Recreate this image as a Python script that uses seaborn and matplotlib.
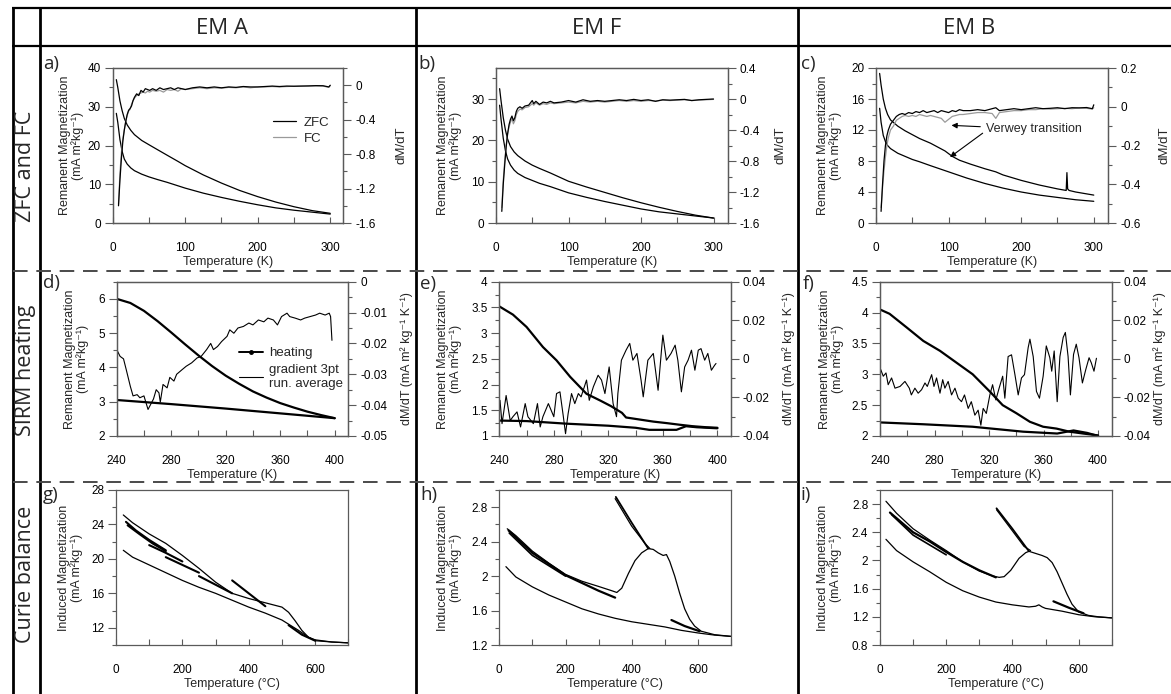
import matplotlib
matplotlib.use("Agg")
import matplotlib.pyplot as plt
import seaborn as sns
from matplotlib.lines import Line2D
from matplotlib.ticker import FixedLocator, FuncFormatter

# ---------------- data ----------------
col_titles = ["EM A", "EM F", "EM B"]
row_titles = ["ZFC and FC", "SIRM heating", "Curie balance"]
panel_tags = ["a)", "b)", "c)", "d)", "e)", "f)", "g)", "h)", "i)"]

# a) EM A  ZFC / FC
a_T_up = [5, 7, 10, 13, 16, 20, 25, 30, 40, 50, 62, 75, 90, 100, 125, 150, 175, 200, 225, 250, 275, 300]
a_M_up = [37.0, 35.0, 31.5, 29.0, 27.0, 25.3, 23.9, 22.8, 21.3, 20.2, 18.9, 17.5, 15.9, 14.8, 12.4, 10.3, 8.4, 6.8, 5.4, 4.2, 3.2, 2.5]
a_T_lo = [5, 7, 10, 13, 16, 20, 25, 30, 40, 50, 62, 75, 90, 100, 125, 150, 175, 200, 225, 250, 275, 300]
a_M_lo = [28.3, 26.0, 21.5, 18.5, 16.5, 15.2, 14.2, 13.5, 12.6, 11.9, 11.2, 10.5, 9.6, 9.0, 7.7, 6.6, 5.6, 4.7, 3.9, 3.3, 2.8, 2.3]
a_T_d = [8, 10, 12, 14, 16, 18, 20, 22, 24, 26, 28, 30, 33, 36, 39, 42, 45, 48, 51, 55, 60, 65, 70, 75, 80, 85, 90, 95, 100,
         110, 120, 130, 140, 150, 160, 170, 180, 190, 200, 210, 220, 230, 240, 250, 260, 270, 280, 290, 298, 300]
a_zfc_d = [-1.40, -1.10, -0.85, -0.65, -0.52, -0.42, -0.34, -0.29, -0.27, -0.24, -0.18, -0.14, -0.10, -0.12, -0.06, -0.08,
           -0.04, -0.05, -0.06, -0.04, -0.06, -0.03, -0.05, -0.04, -0.03, -0.05, -0.03, -0.04, -0.05, -0.03, -0.02, -0.03,
           -0.02, -0.03, -0.02, -0.025, -0.015, -0.02, -0.02, -0.015, -0.01, -0.015, -0.01, -0.012, -0.01, -0.008, -0.005,
           -0.006, -0.02, 0.0]
a_fc_d = [-1.38, -1.02, -0.78, -0.62, -0.52, -0.42, -0.35, -0.30, -0.28, -0.22, -0.18, -0.15, -0.12, -0.10, -0.09, -0.08,
          -0.09, -0.07, -0.08, -0.06, -0.07, -0.06, -0.08, -0.05, -0.06, -0.05, -0.07, -0.04, -0.05, -0.04, -0.03, -0.04,
          -0.03, -0.035, -0.025, -0.03, -0.02, -0.03, -0.02, -0.02, -0.015, -0.02, -0.015, -0.012, -0.01, -0.01, -0.008,
          -0.01, -0.025, -0.005]

# b) EM F  ZFC / FC
b_T = [5, 7, 10, 13, 16, 20, 25, 30, 40, 50, 60, 75, 90, 100, 125, 150, 175, 200, 225, 250, 275, 300]
b_M_up = [32.5, 29.5, 25.5, 22.5, 20.3, 18.5, 17.2, 16.3, 15.0, 14.0, 13.2, 12.1, 10.9, 10.1, 8.7, 7.4, 6.1, 4.9, 3.8, 2.8, 1.9, 1.2]
b_M_lo = [28.5, 25.0, 20.5, 17.5, 15.5, 14.0, 12.8, 12.0, 11.0, 10.3, 9.6, 8.8, 7.9, 7.3, 6.2, 5.2, 4.3, 3.4, 2.7, 2.2, 1.7, 1.2]
b_T_d = [8, 10, 12, 14, 16, 18, 20, 22, 24, 26, 28, 30, 33, 36, 40, 45, 50, 52, 55, 60, 65, 70, 75, 80, 90, 100, 110, 120,
         130, 140, 150, 160, 170, 180, 190, 200, 210, 220, 230, 240, 250, 260, 270, 280, 290, 300]
b_zfc_d = [-1.45, -1.10, -0.85, -0.62, -0.45, -0.33, -0.26, -0.22, -0.28, -0.24, -0.16, -0.12, -0.10, -0.12, -0.09, -0.08,
           -0.02, -0.06, -0.03, -0.07, -0.04, -0.05, -0.03, -0.05, -0.04, -0.02, -0.04, -0.01, -0.03, -0.02, -0.03, -0.02,
           -0.01, -0.02, -0.005, -0.02, -0.01, -0.03, -0.01, -0.015, -0.01, -0.005, -0.02, -0.01, -0.005, 0.0]
b_fc_d = [-1.40, -1.05, -0.80, -0.60, -0.45, -0.36, -0.30, -0.25, -0.32, -0.28, -0.20, -0.16, -0.13, -0.14, -0.11, -0.10,
          -0.06, -0.08, -0.05, -0.08, -0.06, -0.07, -0.05, -0.06, -0.05, -0.04, -0.05, -0.03, -0.04, -0.03, -0.04, -0.03,
          -0.02, -0.03, -0.02, -0.03, -0.02, -0.025, -0.015, -0.02, -0.015, -0.01, -0.02, -0.015, -0.01, -0.005]

# c) EM B  ZFC / FC
c_T_up = [5, 7, 10, 13, 16, 20, 25, 30, 40, 50, 60, 75, 85, 95, 105, 115, 130, 150, 165, 175, 200, 225, 250, 262, 263, 264,
          266, 275, 300]
c_M_up = [19.3, 17.8, 16.0, 14.8, 14.0, 13.3, 12.9, 12.5, 11.9, 11.4, 10.9, 10.3, 9.8, 9.3, 8.6, 8.1, 7.6, 7.0, 6.6, 6.2,
          5.5, 4.9, 4.4, 4.2, 6.5, 4.4, 4.2, 4.0, 3.6]
c_T_lo = [5, 7, 10, 13, 16, 20, 25, 30, 40, 50, 60, 75, 100, 125, 150, 175, 200, 225, 250, 275, 300]
c_M_lo = [14.8, 13.0, 11.3, 10.5, 10.0, 9.6, 9.3, 9.0, 8.6, 8.2, 7.9, 7.4, 6.6, 5.8, 5.1, 4.5, 4.0, 3.6, 3.3, 3.0, 2.8]
c_T_d = [7, 9, 11, 13, 15, 17, 20, 24, 28, 32, 36, 40, 45, 50, 55, 60, 65, 70, 75, 80, 85, 90, 95, 100, 105, 110, 115, 120,
         130, 140, 150, 160, 165, 170, 180, 190, 200, 210, 220, 230, 240, 250, 260, 270, 280, 290, 298, 300]
c_zfc_d = [-0.54, -0.40, -0.28, -0.20, -0.15, -0.12, -0.09, -0.07, -0.05, -0.04, -0.035, -0.04, -0.03, -0.035, -0.025,
           -0.03, -0.02, -0.03, -0.025, -0.02, -0.03, -0.02, -0.025, -0.03, -0.02, -0.025, -0.015, -0.02, -0.02, -0.015,
           -0.02, -0.01, -0.005, -0.02, -0.015, -0.01, -0.015, -0.01, -0.005, -0.01, -0.008, -0.005, -0.01, -0.005,
           -0.006, -0.004, -0.01, 0.01]
c_fc_d = [-0.52, -0.42, -0.33, -0.26, -0.20, -0.16, -0.12, -0.10, -0.07, -0.06, -0.05, -0.045, -0.05, -0.045, -0.05, -0.04,
          -0.045, -0.05, -0.045, -0.05, -0.055, -0.06, -0.08, -0.065, -0.05, -0.045, -0.04, -0.04, -0.035, -0.03, -0.03,
          -0.035, -0.06, -0.03, -0.025, -0.02, -0.02, -0.015, -0.015, -0.01, -0.012, -0.01, -0.008, -0.01, -0.006, -0.008,
          -0.012, -0.005]

# d) EM A  SIRM heating
d_T_heat = [240, 250, 260, 270, 280, 290, 300, 310, 320, 330, 340, 350, 360, 370, 380, 390, 400]
d_M_heat = [6.0, 5.88, 5.65, 5.35, 5.02, 4.68, 4.35, 4.04, 3.76, 3.52, 3.30, 3.12, 2.96, 2.83, 2.71, 2.61, 2.52]
d_T_low = [240, 280, 320, 360, 400]
d_M_low = [3.05, 2.93, 2.80, 2.66, 2.52]
d_T_g = [240, 242.5, 245, 247, 250, 252, 255, 257, 260, 263, 267, 269, 271, 272, 274, 277, 279, 282, 284, 288, 291, 295,
         299, 302, 306, 309, 311, 314, 317, 321, 323, 326, 329, 333, 337, 340, 344, 348, 351, 355, 358, 361, 365, 367,
         371, 375, 378, 382, 386, 389, 393, 396, 397, 398]
d_g = [-0.022, -0.0242, -0.025, -0.0285, -0.0339, -0.037, -0.0366, -0.0376, -0.037, -0.0414, -0.038, -0.035, -0.036,
       -0.039, -0.0333, -0.0344, -0.031, -0.0322, -0.030, -0.0285, -0.0274, -0.0263, -0.0247, -0.0242, -0.022, -0.020,
       -0.022, -0.021, -0.0194, -0.0177, -0.0156, -0.0167, -0.015, -0.0145, -0.0134, -0.014, -0.0124, -0.013, -0.0118,
       -0.0124, -0.014, -0.0113, -0.0102, -0.0113, -0.0118, -0.0124, -0.0118, -0.0113, -0.0108, -0.0102, -0.0108,
       -0.0102, -0.0113, -0.019]

# e) EM F  SIRM heating
e_T_heat = [240, 250, 260, 272, 282, 292, 304, 314, 322, 330, 333, 343, 353, 363, 372, 382, 392, 400]
e_M_heat = [3.52, 3.36, 3.12, 2.73, 2.47, 2.15, 1.82, 1.69, 1.58, 1.45, 1.36, 1.32, 1.28, 1.25, 1.22, 1.19, 1.17, 1.16]
e_T_low = [240, 260, 289, 320, 340, 350, 360, 370, 377, 385, 400]
e_M_low = [1.30, 1.29, 1.24, 1.20, 1.16, 1.12, 1.12, 1.12, 1.19, 1.17, 1.15]
e_T_g = [240.5, 242, 245, 248, 250, 253, 255.6, 259, 261, 265, 268, 270, 272, 276, 280, 282, 284.5, 287, 288.6, 290.5,
         293, 295.4, 298, 300, 304, 306, 309, 312.5, 315, 317.5, 320.6, 323.5, 326, 327, 329.6, 333, 335.7, 338, 341, 344,
         345.6, 349, 353, 356.5, 359, 360, 362.6, 366, 369, 371, 373.6, 376, 378.5, 381, 383.5, 386, 388, 390.7, 393,
         395.6, 398, 399]
e_g = [-0.0215, -0.0336, -0.019, -0.032, -0.030, -0.0275, -0.0353, -0.0232, -0.030, -0.0336, -0.0232, -0.0353, -0.030,
       -0.0232, -0.030, -0.018, -0.0171, -0.030, -0.0388, -0.0284, -0.018, -0.0232, -0.018, -0.0197, -0.011, -0.0215,
       -0.0145, -0.0085, -0.011, -0.018, -0.0042, -0.0232, -0.030, -0.018, -0.0007, 0.0045, 0.008, -0.0007, 0.0028,
       -0.011, -0.0197, -0.0007, 0.0028, -0.0163, 0.0045, 0.0123, -0.0007, 0.0028, 0.0071, -0.0007, -0.0171, -0.0042,
       -0.0007, 0.0045, -0.0059, 0.0045, 0.0053, -0.0007, 0.0028, -0.0059, -0.0033, -0.0024]

# f) EM B  SIRM heating
f_T_heat = [240, 247, 259.5, 271.8, 284, 296, 308, 320.6, 330, 340, 350, 359.7, 369.5, 379, 389, 400]
f_M_heat = [4.05, 3.98, 3.76, 3.54, 3.38, 3.19, 3.00, 2.72, 2.50, 2.37, 2.23, 2.15, 2.12, 2.07, 2.04, 2.01]
f_T_low = [240, 272, 308, 345, 370, 382, 392, 400]
f_M_low = [2.22, 2.19, 2.15, 2.07, 2.04, 2.09, 2.05, 2.00]
f_T_g = [240.5, 242.4, 244.4, 246, 248.5, 251, 254.7, 258.3, 261.5, 263, 265.6, 268, 270.5, 273, 274.7, 277.9, 279.6,
         281.5, 284, 286, 287.6, 290, 292.5, 295, 297.4, 299.8, 302, 304.7, 307, 309.6, 312, 314, 315.7, 318, 320.6,
         322.6, 325, 327.4, 330, 331.6, 334, 336.5, 339, 341.4, 343.8, 346, 348.7, 350, 352.4, 354.8, 357, 359.7, 362,
         364.6, 366, 367.8, 370, 372, 374.4, 376, 378, 379.7, 382, 384, 386, 388.5, 391, 393.4, 395, 397, 398.8]
f_g = [-0.0055, -0.009, -0.0073, -0.0134, -0.0099, -0.0152, -0.0143, -0.0117, -0.0152, -0.0187, -0.0152, -0.0178,
       -0.016, -0.0125, -0.0143, -0.0082, -0.0143, -0.0099, -0.0178, -0.0108, -0.0152, -0.0117, -0.0187, -0.0152,
       -0.0204, -0.0222, -0.0187, -0.0257, -0.0222, -0.0292, -0.0266, -0.0344, -0.0257, -0.0283, -0.0187, -0.0134,
       -0.0213, -0.0152, -0.009, -0.0204, 0.0012, 0.0021, -0.0082, -0.0187, -0.0099, -0.0082, 0.0058, 0.0102, 0.0012,
       -0.0169, -0.0204, -0.009, 0.0067, 0.0006, -0.0064, 0.0041, -0.0222, 0.0012, 0.0111, 0.0137, 0.0012, -0.0187,
       0.0023, 0.0076, 0.0006, -0.0125, -0.0055, 0.0006, -0.002, -0.0064, 0.0003]

# g) EM A  Curie balance
g_T_heat = [22, 50, 100, 150, 200, 250, 300, 350, 400, 450, 500, 520, 540, 560, 580, 600, 650, 700]
g_M_heat = [25.1, 24.2, 22.9, 21.8, 20.4, 18.9, 17.3, 16.0, 15.4, 14.9, 14.4, 13.8, 12.8, 11.7, 10.9, 10.5, 10.35, 10.25]
g_T_cool = [22, 50, 100, 150, 200, 250, 300, 350, 400, 450, 500, 550, 580, 600, 650, 700]
g_M_cool = [21.0, 20.2, 19.3, 18.4, 17.5, 16.7, 16.0, 15.2, 14.4, 13.7, 12.9, 11.7, 10.9, 10.6, 10.35, 10.25]
g_T_s1 = [30, 60, 100, 150]
g_M_s1 = [24.3, 23.3, 22.2, 21.0]
g_T_s2 = [35, 70, 110, 150]
g_M_s2 = [23.9, 22.9, 21.8, 20.9]
g_T_s3 = [100, 150, 200]
g_M_s3 = [21.6, 20.7, 19.7]
g_T_s4 = [150, 200, 250]
g_M_s4 = [20.2, 19.3, 18.4]
g_T_s5 = [250, 300, 350]
g_M_s5 = [18.0, 17.0, 16.0]
g_T_s6 = [350, 400, 450]
g_M_s6 = [17.5, 16.0, 14.5]
g_T_s7 = [520, 560, 600]
g_M_s7 = [12.3, 11.2, 10.5]

# h) EM F  Curie balance
h_T_heat = [24, 50, 100, 150, 200, 250, 300, 340, 355, 370, 390, 410, 430, 450, 465, 480, 495, 505, 515, 530, 545, 560,
            575, 590, 610, 650, 700]
h_M_heat = [2.55, 2.47, 2.29, 2.15, 2.02, 1.94, 1.88, 1.83, 1.81, 1.86, 2.03, 2.18, 2.27, 2.32, 2.31, 2.27, 2.24, 2.25,
            2.17, 2.00, 1.80, 1.62, 1.50, 1.42, 1.36, 1.32, 1.30]
h_T_cool = [20, 50, 100, 150, 200, 250, 300, 350, 400, 450, 500, 550, 600, 650, 700]
h_M_cool = [2.11, 1.99, 1.875, 1.78, 1.70, 1.62, 1.56, 1.51, 1.47, 1.44, 1.41, 1.37, 1.34, 1.315, 1.30]
h_T_s1 = [450, 400, 352]
h_M_s1 = [2.32, 2.62, 2.92]
h_T_s2 = [350, 400, 440, 455]
h_M_s2 = [2.90, 2.58, 2.38, 2.32]
h_T_s3 = [28, 100, 200, 300, 350]
h_M_s3 = [2.53, 2.27, 2.01, 1.83, 1.75]
h_T_s4 = [30, 100, 150, 200]
h_M_s4 = [2.50, 2.24, 2.12, 2.00]
h_T_s5 = [520, 560, 605]
h_M_s5 = [1.49, 1.42, 1.36]

# i) EM B  Curie balance
i_T_heat = [18, 50, 100, 150, 200, 250, 300, 340, 360, 375, 395, 420, 440, 450, 470, 490, 505, 520, 535, 550, 565, 580,
            600, 630, 660, 700]
i_M_heat = [2.84, 2.67, 2.45, 2.29, 2.14, 1.98, 1.85, 1.78, 1.76, 1.77, 1.86, 2.03, 2.11, 2.13, 2.10, 2.07, 2.04, 1.97,
            1.84, 1.68, 1.52, 1.38, 1.27, 1.22, 1.20, 1.185]
i_T_cool = [18, 50, 100, 150, 200, 250, 300, 350, 400, 450, 470, 480, 490, 500, 550, 600, 650, 700]
i_M_cool = [2.30, 2.14, 1.98, 1.84, 1.69, 1.57, 1.48, 1.41, 1.37, 1.34, 1.35, 1.37, 1.34, 1.32, 1.28, 1.23, 1.20, 1.185]
i_T_s1 = [450, 400, 352]
i_M_s1 = [2.13, 2.45, 2.74]
i_T_s2 = [352, 400, 435, 455]
i_M_s2 = [2.72, 2.42, 2.20, 2.14]
i_T_s3 = [30, 100, 150, 200, 250, 300, 350]
i_M_s3 = [2.68, 2.40, 2.27, 2.12, 1.98, 1.86, 1.76]
i_T_s4 = [35, 100, 150, 200]
i_M_s4 = [2.65, 2.36, 2.22, 2.08]
i_T_s5 = [524, 570, 615]
i_M_s5 = [1.42, 1.33, 1.25]

# ---------------- style ----------------
sns.set_theme(style="ticks")
plt.rcParams["font.family"] = ["Liberation Sans", "DejaVu Sans"]
plt.rcParams["axes.unicode_minus"] = False

W, H = 1171, 694
fig = plt.figure(figsize=(W / 100, H / 100), dpi=100)
SP = "#5a5a5a"
TICKFS = 8.5
LABFS = 9

fmt = FuncFormatter(lambda v, p: "0" if abs(v) < 1e-12 else "%g" % v)


def px_axes(l, t, r, b):
    return fig.add_axes([l / W, 1 - b / H, (r - l) / W, (b - t) / H])


def style_main(ax, xlim, xmaj, xmin, ylim, ymaj, ymin, xlabel, ylabel, ylab_x):
    ax.set_xlim(xlim)
    ax.set_ylim(ylim)
    ax.xaxis.set_major_locator(FixedLocator(xmaj))
    ax.xaxis.set_minor_locator(FixedLocator(xmin))
    ax.yaxis.set_major_locator(FixedLocator(ymaj))
    ax.yaxis.set_minor_locator(FixedLocator(ymin))
    ax.xaxis.set_major_formatter(fmt)
    ax.yaxis.set_major_formatter(fmt)
    for s in ax.spines.values():
        s.set_color(SP)
        s.set_linewidth(0.9)
    ax.tick_params(axis="x", which="both", direction="in", length=4, width=0.8, color=SP,
                   labelsize=TICKFS, pad=13.5, labelcolor="black")
    ax.tick_params(axis="y", which="major", direction="out", length=5.5, width=0.8, color=SP,
                   labelsize=TICKFS, pad=3, labelcolor="black")
    ax.tick_params(axis="y", which="minor", direction="out", length=3, width=0.8, color=SP)
    ax.set_xlabel(xlabel, fontsize=LABFS, labelpad=1.5)
    ax.set_ylabel(ylabel, fontsize=LABFS, linespacing=1.05)
    ax.yaxis.set_label_coords(ylab_x, 0.5)


def style_twin(ax2, ylim, ymaj, ymin, ylabel, ylab_x, fs=9.5):
    ax2.set_ylim(ylim)
    ax2.yaxis.set_major_locator(FixedLocator(ymaj))
    ax2.yaxis.set_minor_locator(FixedLocator(ymin))
    ax2.yaxis.set_major_formatter(fmt)
    for s in ax2.spines.values():
        s.set_color(SP)
        s.set_linewidth(0.9)
    ax2.tick_params(axis="y", which="major", direction="out", length=5.5, width=0.8, color=SP,
                    labelsize=TICKFS, pad=3, labelcolor="black")
    ax2.tick_params(axis="y", which="minor", direction="out", length=3, width=0.8, color=SP)
    ax2.set_ylabel(ylabel, fontsize=fs)
    ax2.yaxis.set_label_coords(ylab_x, 0.5)


def line(ax, x, y, color="black", lw=0.9, **kw):
    sns.lineplot(x=x, y=y, ax=ax, color=color, lw=lw, sort=False, estimator=None, legend=False, **kw)


GRAY = "#9a9a9a"
rem_lab = "Remanent Magnetization\n(mA m\u00b2kg\u207b\u00b9)"
ind_lab = "Induced Magnetization\n(mA m\u00b2kg\u207b\u00b9)"
grad_lab = "dM/dT (mA m\u00b2 kg\u207b\u00b9 K\u207b\u00b9)"
tk = "Temperature (K)"
tc = "Temperature (\u00b0C)"

# ---------------- row 1 ----------------
ax_a = px_axes(112.7, 68, 343.3, 223)
line(ax_a, a_T_up, a_M_up)
line(ax_a, a_T_lo, a_M_lo)
style_main(ax_a, (0, 318), [0, 100, 200, 300], [50, 150, 250], (0, 40), [0, 10, 20, 30, 40], [5, 15, 25, 35],
           tk, rem_lab, -0.124)
a2 = ax_a.twinx()
line(a2, a_T_d, a_fc_d, color=GRAY)
line(a2, a_T_d, a_zfc_d)
style_twin(a2, (-1.6, 0.2), [-1.6, -1.2, -0.8, -0.4, 0], [-1.4, -1.0, -0.6, -0.2, 0.2], "dM/dT", 1.225)
a2.legend(handles=[Line2D([], [], color="black", lw=0.9), Line2D([], [], color=GRAY, lw=0.9)],
          labels=["ZFC", "FC"], loc="upper left", bbox_to_anchor=(0.665, 0.73), frameon=False,
          fontsize=9.5, handlelength=1.8, handletextpad=0.55, labelspacing=0.3, borderpad=0)

ax_b = px_axes(496, 68, 728, 223)
line(ax_b, b_T, b_M_up)
line(ax_b, b_T, b_M_lo)
style_main(ax_b, (0, 320), [0, 100, 200, 300], [50, 150, 250], (0, 37.5), [0, 10, 20, 30], [5, 15, 25, 35],
           tk, rem_lab, -0.147)
b2 = ax_b.twinx()
line(b2, b_T_d, b_fc_d, color=GRAY)
line(b2, b_T_d, b_zfc_d)
style_twin(b2, (-1.6, 0.4), [-1.6, -1.2, -0.8, -0.4, 0, 0.4], [-1.4, -1.0, -0.6, -0.2, 0.2], "dM/dT", 1.2)

ax_c = px_axes(876, 68, 1108.3, 223)
line(ax_c, c_T_up, c_M_up)
line(ax_c, c_T_lo, c_M_lo)
style_main(ax_c, (0, 320), [0, 100, 200, 300], [50, 150, 250], (0, 20), [0, 4, 8, 12, 16, 20],
           [2, 6, 10, 14, 18], tk, rem_lab, -0.146)
c2 = ax_c.twinx()
line(c2, c_T_d, c_fc_d, color=GRAY)
line(c2, c_T_d, c_zfc_d)
style_twin(c2, (-0.6, 0.2), [-0.6, -0.4, -0.2, 0, 0.2], [-0.5, -0.3, -0.1, 0.1], "dM/dT", 1.218)
arr = dict(arrowstyle="-|>", color="black", lw=0.8, mutation_scale=8, shrinkA=2, shrinkB=0)
ax_c.annotate("Verwey transition", xy=(104, 12.6), xytext=(152, 12.1), fontsize=9, va="center",
              ha="left", arrowprops=arr, zorder=5)
ax_c.annotate("", xy=(102, 8.5), xytext=(150, 11.8), arrowprops=arr, zorder=5)

# ---------------- row 2 ----------------
ax_d = px_axes(116.7, 281.7, 348.3, 436)
line(ax_d, d_T_low, d_M_low, lw=1.6)
line(ax_d, d_T_heat, d_M_heat, lw=1.6)
style_main(ax_d, (240, 410), [240, 280, 320, 360, 400], [260, 300, 340, 380], (2, 6.5), [2, 3, 4, 5, 6],
           [2.5, 3.5, 4.5, 5.5, 6.5], tk, rem_lab, -0.12)
d2 = ax_d.twinx()
line(d2, d_T_g, d_g, lw=0.8)
style_twin(d2, (-0.05, 0), [-0.05, -0.04, -0.03, -0.02, -0.01, 0], [-0.045, -0.035, -0.025, -0.015, -0.005],
           grad_lab, 1.225, fs=9)
d2.legend(handles=[Line2D([], [], color="black", lw=1.4, marker="o", markersize=2.5),
                   Line2D([], [], color="black", lw=0.8)],
          labels=["heating", "gradient 3pt\nrun. average"], loc="upper left", bbox_to_anchor=(0.5, 0.62),
          frameon=False, fontsize=9.5, handlelength=1.8, handletextpad=0.5, labelspacing=0.4, borderpad=0)

ax_e = px_axes(499.3, 281.7, 731, 436)
line(ax_e, e_T_low, e_M_low, lw=1.6)
line(ax_e, e_T_heat, e_M_heat, lw=1.6)
style_main(ax_e, (240, 410), [240, 280, 320, 360, 400], [260, 300, 340, 380], (1, 4),
           [1, 1.5, 2, 2.5, 3, 3.5, 4], [1.25, 1.75, 2.25, 2.75, 3.25, 3.75], tk, rem_lab, -0.161)
e2 = ax_e.twinx()
line(e2, e_T_g, e_g, lw=0.8)
style_twin(e2, (-0.04, 0.04), [-0.04, -0.02, 0, 0.02, 0.04], [-0.03, -0.01, 0.01, 0.03], grad_lab, 1.22, fs=9)

ax_f = px_axes(880, 281.7, 1111.7, 436)
line(ax_f, f_T_low, f_M_low, lw=1.6)
line(ax_f, f_T_heat, f_M_heat, lw=1.6)
style_main(ax_f, (240, 410), [240, 280, 320, 360, 400], [260, 300, 340, 380], (2, 4.5),
           [2, 2.5, 3, 3.5, 4, 4.5], [2.25, 2.75, 3.25, 3.75, 4.25], tk, rem_lab, -0.155)
f2 = ax_f.twinx()
line(f2, f_T_g, f_g, lw=0.8)
style_twin(f2, (-0.04, 0.04), [-0.04, -0.02, 0, 0.02, 0.04], [-0.03, -0.01, 0.01, 0.03], grad_lab, 1.18, fs=9)

# ---------------- row 3 ----------------
ax_g = px_axes(116, 490, 348.3, 645)
line(ax_g, g_T_cool, g_M_cool)
line(ax_g, g_T_heat, g_M_heat)
for tt, mm in [(g_T_s1, g_M_s1), (g_T_s2, g_M_s2), (g_T_s3, g_M_s3), (g_T_s4, g_M_s4),
               (g_T_s5, g_M_s5), (g_T_s6, g_M_s6), (g_T_s7, g_M_s7)]:
    line(ax_g, tt, mm, lw=1.5)
style_main(ax_g, (0, 700), [0, 200, 400, 600], [100, 300, 500, 700], (10, 28), [12, 16, 20, 24, 28],
           [10, 14, 18, 22, 26], tc, ind_lab, -0.142)

ax_h = px_axes(499.3, 490, 731, 645)
line(ax_h, h_T_cool, h_M_cool)
line(ax_h, h_T_heat, h_M_heat)
line(ax_h, h_T_s1, h_M_s1, lw=1.3)
line(ax_h, h_T_s2, h_M_s2)
line(ax_h, h_T_s3, h_M_s3, lw=1.6)
line(ax_h, h_T_s4, h_M_s4, lw=1.2)
line(ax_h, h_T_s5, h_M_s5, lw=1.6)
style_main(ax_h, (0, 700), [0, 200, 400, 600], [100, 300, 500, 700], (1.2, 3.0), [1.2, 1.6, 2, 2.4, 2.8],
           [1.4, 1.8, 2.2, 2.6, 3.0], tc, ind_lab, -0.161)

ax_i = px_axes(880, 490, 1111.7, 645)
line(ax_i, i_T_cool, i_M_cool)
line(ax_i, i_T_heat, i_M_heat)
line(ax_i, i_T_s1, i_M_s1, lw=1.3)
line(ax_i, i_T_s2, i_M_s2)
line(ax_i, i_T_s3, i_M_s3, lw=1.6)
line(ax_i, i_T_s4, i_M_s4, lw=1.2)
line(ax_i, i_T_s5, i_M_s5, lw=1.6)
style_main(ax_i, (0, 700), [0, 200, 400, 600], [100, 300, 500, 700], (0.8, 3.0), [0.8, 1.2, 1.6, 2, 2.4, 2.8],
           [1.0, 1.4, 1.8, 2.2, 2.6, 3.0], tc, ind_lab, -0.164)

# ---------------- table frame & labels ----------------
ov = fig.add_axes([0, 0, 1, 1], zorder=-1)
ov.set_xlim(0, W)
ov.set_ylim(H, 0)
ov.axis("off")
for x in [13, 40, 416, 798]:
    ov.plot([x, x], [8, H], color="black", lw=2.0, solid_capstyle="butt")
for y in [8, 46]:
    ov.plot([12, W], [y, y], color="black", lw=1.6, solid_capstyle="butt")
for y in [271, 482]:
    ov.plot([13, W], [y, y], color="#4a4a4a", lw=1.4, linestyle=(0, (7.5, 4.5)))

hdr_font = ["Open Sans", "DejaVu Sans"]
for x, t in zip([222, 597, 969], col_titles):
    ov.text(x, 28, t, ha="center", va="center", fontsize=16, family=hdr_font)
for y, t in zip([166, 370, 574], row_titles):
    ov.text(25.5, y, t, ha="center", va="center", rotation=90, fontsize=15.5, family=hdr_font)
for (x, y), t in zip([(43, 55), (418, 55), (801, 55), (43, 274), (420, 275), (803, 275), (43, 486), (420, 486),
                      (800, 486)], panel_tags):
    ov.text(x, y, t, ha="left", va="top", fontsize=13.5, family=hdr_font)

fig.savefig("out.png", dpi=100)
